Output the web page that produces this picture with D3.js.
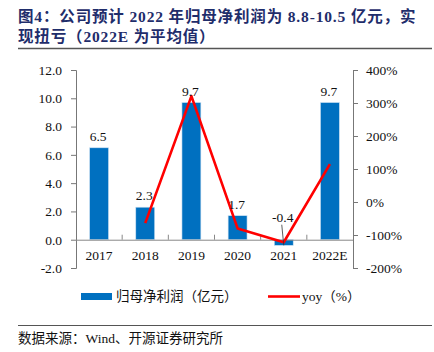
<!DOCTYPE html>
<html>
<head>
<meta charset="utf-8">
<script src="https://cdn.jsdelivr.net/npm/d3@7"></script>
<style>
  body { margin: 0; background: #fff; }
  svg { display: block; }
</style>
</head>
<body>
<svg id="chart" width="434" height="352"></svg>
<script>
const years = ["2017", "2018", "2019", "2020", "2021", "2022E"];
const profit = [6.5, 2.3, 9.7, 1.7, -0.4, 9.7];
const yoy = [null, -64, 321, -80, -122, 115];
const leftTicks = [-2, 0, 2, 4, 6, 8, 10, 12];
const rightTicks = [-200, -100, 0, 100, 200, 300, 400];

const svg = d3.select("#chart");
const serif = "'Liberation Serif', 'Noto Sans CJK SC', serif";
const cjk = "'Liberation Serif', 'Noto Sans CJK SC', sans-serif";

const margin = { left: 76, right: 81, top: 70, bottom: 84 };
const width = 434, height = 352;
const innerW = width - margin.left - margin.right;
const innerH = height - margin.top - margin.bottom;

// title
const title = svg.append("g").attr("font-family", cjk).attr("font-weight", "bold")
  .attr("font-size", "15.5px").attr("fill", "#1f2d6b").attr("letter-spacing", "0.85px");
title.append("text").attr("x", 18).attr("y", 22).text("图4：公司预计 2022 年归母净利润为 8.8-10.5 亿元，实");
title.append("text").attr("x", 18).attr("y", 42).text("现扭亏（2022E 为平均值）");
svg.append("line").attr("x1", 18).attr("x2", 432).attr("y1", 48.5).attr("y2", 48.5)
  .attr("stroke", "#555").attr("stroke-width", 1.5);

const g = svg.append("g").attr("transform", `translate(${margin.left},${margin.top})`);

const x = d3.scaleBand().domain(years).range([0, innerW]).paddingInner(0.59).paddingOuter(0.295);
const band = d3.scaleBand().domain(years).range([0, innerW]);
const yL = d3.scaleLinear().domain([-2, 12]).range([innerH, 0]);
const yR = d3.scaleLinear().domain([-200, 400]).range([innerH, 0]);

// bars
g.selectAll(".bar").data(years).enter().append("rect")
  .attr("x", d => x(d))
  .attr("width", x.bandwidth())
  .attr("y", (d, i) => yL(Math.max(0, profit[i])))
  .attr("height", (d, i) => Math.abs(yL(profit[i]) - yL(0)))
  .attr("fill", "#0070c0")
  .attr("stroke", "#cfe3f3").attr("stroke-width", 0.6);

// left axis
const axL = g.append("g").call(d3.axisLeft(yL).tickValues(leftTicks).tickFormat(d => d.toFixed(1)).tickSize(5).tickPadding(9));
axL.selectAll("text").attr("font-family", serif).attr("font-size", "13.5px").attr("fill", "#111");
axL.selectAll("line, path").attr("stroke", "#777");
axL.select(".domain").attr("d", `M-5,0.5H0.5V${innerH + 0.5}H-5`);

// right axis
const axR = g.append("g").attr("transform", `translate(${innerW},0)`)
  .call(d3.axisRight(yR).tickValues(rightTicks).tickFormat(d => d + "%").tickSize(5).tickPadding(8));
axR.selectAll("text").attr("font-family", serif).attr("font-size", "13.5px").attr("fill", "#111");
axR.selectAll("line, path").attr("stroke", "#777");
axR.select(".domain").attr("d", `M5,0.5H0.5V${innerH + 0.5}H5`);

// category axis on zero line
const axX = g.append("g").attr("transform", `translate(0,${yL(0)})`)
  .call(d3.axisBottom(band).tickSize(0).tickPadding(11));
axX.selectAll("text").attr("font-family", serif).attr("font-size", "13.5px").attr("fill", "#111");
axX.select(".domain").attr("stroke", "#888").attr("d", `M0,0.5H${innerW}`);
g.selectAll(".cat-tick").data(years.slice(1)).enter().append("line")
  .attr("x1", d => band(d)).attr("x2", d => band(d))
  .attr("y1", yL(0)).attr("y2", yL(0) - 5)
  .attr("stroke", "#888");

// yoy line
const line = d3.line()
  .defined(d => d.v != null)
  .x(d => band(d.year) + band.bandwidth() / 2)
  .y(d => yR(d.v));
g.append("path")
  .datum(years.map((year, i) => ({ year, v: yoy[i] })))
  .attr("fill", "none").attr("stroke", "#ff0000").attr("stroke-width", 2.6)
  .attr("stroke-linejoin", "round")
  .attr("d", line);

// value labels
years.forEach((year, i) => {
  const cx = band(year) + band.bandwidth() / 2;
  let ly = yL(Math.max(0, profit[i])) - 7;
  if (profit[i] < 0) {
    ly = yL(0) - 18;
    g.append("line").attr("x1", cx - 2).attr("y1", ly + 3).attr("x2", cx).attr("y2", yL(profit[i]))
      .attr("stroke", "#333").attr("stroke-width", 0.8);
  }
  g.append("text").attr("x", cx - 1).attr("y", ly).attr("text-anchor", "middle")
    .attr("font-family", serif).attr("font-size", "13.5px").attr("fill", "#111")
    .text(profit[i].toFixed(1));
});

// legend
const leg = svg.append("g").attr("font-family", cjk).attr("font-size", "13.5px").attr("fill", "#111");
leg.append("rect").attr("x", 81).attr("y", 293).attr("width", 31).attr("height", 7).attr("fill", "#0070c0");
leg.append("text").attr("x", 116).attr("y", 301).text("归母净利润（亿元）");
leg.append("line").attr("x1", 268).attr("x2", 300).attr("y1", 296.5).attr("y2", 296.5)
  .attr("stroke", "#ff0000").attr("stroke-width", 2.6);
leg.append("text").attr("x", 302).attr("y", 301).text("yoy（%）");

// source
svg.append("line").attr("x1", 18).attr("x2", 432).attr("y1", 325.5).attr("y2", 325.5)
  .attr("stroke", "#555").attr("stroke-width", 1.2);
svg.append("text").attr("x", 18).attr("y", 343).attr("font-family", cjk).attr("font-size", "13.5px")
  .attr("fill", "#111").text("数据来源：Wind、开源证券研究所");
</script>
</body>
</html>
